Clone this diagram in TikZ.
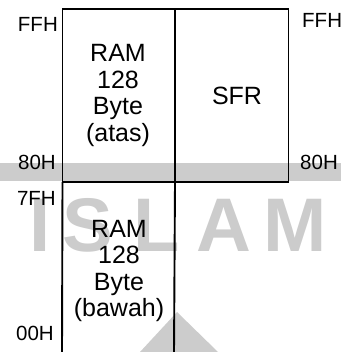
\documentclass[tikz,border=0pt]{standalone}
\usepackage{fontspec}
\setmainfont{Liberation Sans}
\definecolor{wm}{gray}{0.80}
\begin{document}
\begin{tikzpicture}[x=1pt,y=-1pt,
  frame/.style={line width=1.9pt,black},
  addr/.style={inner sep=0pt,font=\fontsize{20.5}{24}\selectfont},
  block/.style={inner sep=0pt,align=center,font=\fontsize{25}{26.5}\selectfont},
  wmletter/.style={inner sep=0pt,anchor=base,text=wm,font=\bfseries\fontsize{76}{76}\selectfont}]
\useasboundingbox (0,0) rectangle (343,352);
% watermark
\fill[wm] (0,163) rectangle (341,181);
\fill[wm] (177,312) -- (218,352) -- (140,352) -- cycle;
\node[wmletter] (wI) at (40,251) {I};
\node[wmletter] (wS) at (88,251) {S};
\node[wmletter] (wL) at (157,251) {L};
\node[wmletter] (wA) at (224,251) {A};
\node[wmletter] (wM) at (295,251) {M};
% frame
\coordinate (tl) at (62.5,9);
\coordinate (tm) at (175,9);
\coordinate (tr) at (288.5,9);
\coordinate (ml) at (62.5,182);
\coordinate (mm) at (175,182);
\coordinate (mr) at (288.5,182);
\coordinate (bl) at (62,353);
\coordinate (bm) at (174,353);
\draw[frame] (ml) -- (tl) -- (tr) -- (mr) -- cycle;
\draw[frame] (tm) -- (mm);
\draw[frame] (ml) -- (bl);
\draw[frame] (mm) -- (bm);
% address labels
\node[addr,anchor=east] (ffhl) at (58,24.5) {FFH};
\node[addr,anchor=west] (ffhr) at (302,20) {FFH};
\node[addr,anchor=east] (h80l) at (56,162.5) {80H};
\node[addr,anchor=west] (h80r) at (300,162.5) {80H};
\node[addr,anchor=east] (h7fl) at (56,198) {7FH};
\node[addr,anchor=east] (h00l) at (54,333) {00H};
% blocks
\node[block] (ramup) at (118,95.5) {RAM\\128\\Byte\\(atas)};
\node[block] (sfr) at (237,96) {SFR};
\node[block] (ramlo) at (119,271) {RAM\\128\\Byte\\(bawah)};
\end{tikzpicture}
\end{document}
